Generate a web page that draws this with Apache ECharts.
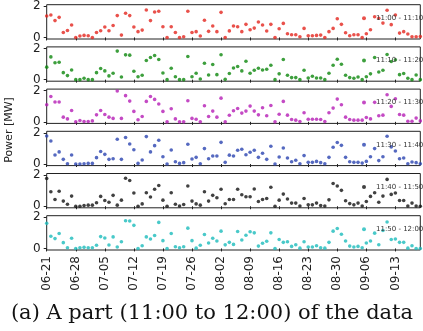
<!DOCTYPE html>
<html>
<head>
<meta charset="utf-8">
<script src="https://cdn.jsdelivr.net/npm/echarts@6/dist/echarts.min.js"></script>
<style>
  html, body { margin: 0; padding: 0; background: #fff; }
  #chart { width: 423px; height: 331px; }
</style>
</head>
<body>
<div id="chart"></div>
<script>
// daily category labels, 06-21 .. 09-19
const days = []
for (let d = new Date(2020, 5, 21); d <= new Date(2020, 8, 19); d.setDate(d.getDate() + 1)) {
  days.push(String(d.getMonth() + 1).padStart(2, '0') + '-' + String(d.getDate()).padStart(2, '0'))
}

const names = ['11:00 - 11:10', '11:10 - 11:20', '11:20 - 11:30', '11:30 - 11:40', '11:40 - 11:50', '11:50 - 12:00']
const colors = ['#e3261e', '#0d870d', '#b51db5', '#2b44b0', '#111111', '#1bbcbc']

// power [MW] per day for each 10-minute slot
const p1100 = [1.38, 1.44, 1.08, 1.29, 0.32, 0.45, 0.80, 0.00, 0.09, 0.13, 0.11, 0.00, 0.32, 0.43, 0.67, 0.43, 0.77, 1.40, 0.15, 1.55,
  1.40, 0.67, 0.37, 0.47, 1.76, 1.08, 1.63, 1.68, 0.69, 0.00, 0.69, 0.32, 0.00, 0.04, 1.68, 0.32, 0.37, 0.09, 1.10, 0.39,
  0.73, 0.37, 1.61, 0.00, 0.42, 0.73, 0.69, 0.37, 0.84, 0.49, 0.60, 0.99, 0.80, 0.41, 0.84, 0.00, 0.56, 0.90, 0.24, 0.17,
  0.17, 0.04, 0.58, 0.11, 0.11, 0.13, 0.15, 0.00, 0.37, 0.58, 1.20, 0.84, 0.30, 0.11, 0.17, 0.17, 0.00, 0.24, 0.49, 1.33,
  1.23, 0.92, 1.74, 0.82, 1.44, 0.28, 0.37, 0.22, 0.04, 0.04, 0.06]
const p1110 = [0.80, 1.46, 1.08, 1.12, 0.45, 0.26, 0.62, 0.00, 0.00, 0.09, 0.00, 0.00, 0.45, 0.71, 0.56, 0.24, 0.41, 1.83, 0.17, 1.59,
  1.57, 0.54, 0.19, 0.28, 1.23, 1.42, 1.55, 1.29, 0.43, 0.00, 0.73, 0.19, 0.00, 0.00, 1.48, 0.19, 0.41, 0.04, 1.05, 0.30,
  0.97, 0.32, 1.60, 0.02, 0.39, 0.75, 0.84, 0.56, 1.18, 0.41, 0.60, 0.73, 0.62, 0.67, 0.92, 0.00, 0.37, 1.29, 0.28, 0.13,
  0.13, 0.00, 0.60, 0.11, 0.22, 0.11, 0.11, 0.00, 0.41, 0.92, 1.31, 0.99, 0.28, 0.13, 0.09, 0.17, 0.00, 0.19, 0.37, 1.42,
  0.49, 0.60, 1.61, 1.16, 1.27, 0.32, 0.39, 0.09, 0.00, 0.30, 0.00]
const p1120 = [1.10, 1.63, 1.27, 1.27, 0.30, 0.19, 0.73, 0.00, 0.09, 0.02, 0.02, 0.06, 0.45, 0.73, 0.47, 0.30, 0.22, 1.98, 0.22, 1.68,
  1.33, 0.67, 0.13, 0.34, 1.31, 1.63, 1.44, 1.14, 0.67, 0.00, 0.84, 0.19, 0.00, 0.00, 1.35, 0.22, 0.17, 0.00, 1.03, 0.34,
  0.69, 0.30, 1.52, 0.00, 0.42, 0.71, 0.86, 0.56, 0.69, 1.01, 0.69, 0.45, 0.90, 0.39, 1.05, 0.00, 0.49, 1.31, 0.43, 0.15,
  0.11, 0.02, 0.58, 0.17, 0.17, 0.17, 0.15, 0.02, 0.58, 0.88, 1.46, 1.10, 0.30, 0.15, 0.11, 0.11, 0.11, 0.28, 0.19, 1.25,
  0.39, 0.43, 1.74, 0.99, 1.48, 0.47, 0.43, 0.04, 0.04, 0.24, 0.06]
const p1130 = [1.80, 1.48, 0.58, 0.78, 0.30, 0.02, 0.58, 0.00, 0.00, 0.02, 0.04, 0.04, 0.41, 0.80, 0.62, 0.30, 0.34, 1.59, 0.30, 1.70,
  1.29, 0.92, 0.04, 0.26, 1.76, 0.78, 1.18, 1.53, 0.47, 0.00, 0.90, 0.15, 0.04, 0.09, 1.27, 0.32, 0.43, 0.02, 0.99, 0.34,
  0.52, 0.52, 1.39, 0.11, 0.57, 0.52, 0.88, 0.95, 0.60, 0.76, 0.88, 0.43, 0.69, 0.30, 1.14, 0.00, 0.45, 1.03, 0.39, 0.15,
  0.24, 0.02, 0.54, 0.11, 0.11, 0.17, 0.09, 0.02, 0.43, 1.08, 1.38, 1.20, 0.43, 0.15, 0.11, 0.11, 0.06, 0.17, 0.47, 0.99,
  0.22, 0.47, 1.78, 1.10, 0.84, 0.34, 0.39, 0.02, 0.13, 0.09, 0.02]
const p1140 = [1.78, 0.93, 0.43, 0.96, 0.33, 0.13, 0.65, 0.00, 0.00, 0.04, 0.07, 0.07, 0.22, 0.63, 0.37, 0.26, 0.70, 0.07, 0.39, 1.80,
  1.65, 0.85, 0.00, 0.15, 0.87, 0.59, 1.09, 1.33, 0.39, 0.00, 0.87, 0.13, 0.02, 0.11, 1.30, 0.33, 0.15, 0.07, 0.93, 0.33,
  0.70, 0.54, 1.09, 0.16, 0.43, 0.43, 1.09, 0.74, 0.61, 0.61, 1.11, 0.30, 0.43, 0.50, 1.22, 0.00, 0.39, 0.78, 0.46, 0.20,
  0.20, 0.02, 0.50, 0.09, 0.09, 0.20, 0.04, 0.02, 0.41, 1.46, 1.30, 1.02, 0.35, 0.17, 0.09, 0.20, 0.02, 0.30, 0.63, 0.87,
  0.26, 0.65, 1.72, 0.76, 0.85, 0.37, 0.37, 0.02, 0.20, 0.02, 0.00]
const p1150 = [1.61, 0.78, 0.63, 0.96, 0.37, 0.04, 0.65, 0.00, 0.04, 0.07, 0.04, 0.04, 0.20, 0.76, 0.67, 0.22, 0.74, 0.09, 0.43, 1.78,
  1.76, 1.48, 0.00, 0.17, 0.74, 0.61, 0.83, 1.67, 0.50, 0.00, 0.96, 0.11, 0.04, 0.11, 1.30, 0.50, 0.02, 0.20, 0.89, 0.35,
  0.65, 0.48, 1.11, 0.23, 0.39, 0.26, 1.09, 0.54, 0.85, 1.07, 1.00, 0.15, 0.33, 0.46, 1.00, 0.00, 0.57, 0.39, 0.43, 0.13,
  0.24, 0.02, 0.43, 0.09, 0.09, 0.17, 0.04, 0.02, 0.39, 1.11, 1.28, 0.91, 0.48, 0.15, 0.09, 0.13, 0.04, 0.35, 0.48, 0.98,
  0.24, 1.15, 1.70, 0.57, 0.61, 0.39, 0.39, 0.02, 0.17, 0.00, 0.00]
const values = [p1100, p1110, p1120, p1130, p1140, p1150]

const yTicks = [0, 2]

const panelTop = 4.7
const panelStep = 42.2
const panelH = 34.3
const axisFont = 'DejaVu Sans'

const chart = echarts.init(document.getElementById('chart'), null, { renderer: 'canvas' })

chart.setOption({
  animation: false,
  backgroundColor: '#fff',
  grid: names.map((n, i) => ({
    left: 46.7,
    right: 2.7,
    top: panelTop + panelStep * i,
    height: panelH,
    show: true,
    borderColor: '#222',
    borderWidth: 1
  })),
  xAxis: names.map((n, i) => ({
    type: 'category',
    gridIndex: i,
    data: days,
    boundaryGap: false,
    axisLine: { show: false },
    axisTick: { show: true, interval: 6, length: 3, lineStyle: { color: '#222' } },
    axisLabel: {
      show: i === names.length - 1,
      interval: 6,
      rotate: 90,
      margin: 6,
      fontSize: 12,
      fontFamily: axisFont,
      color: '#222'
    },
    splitLine: { show: false }
  })),
  yAxis: names.map((n, i) => ({
    type: 'value',
    gridIndex: i,
    min: -0.1,
    max: 2.1,
    axisLine: { show: false },
    axisTick: { show: true, length: 3, customValues: yTicks, lineStyle: { color: '#222' } },
    axisLabel: { customValues: yTicks, margin: 6, fontSize: 12, fontFamily: axisFont, color: '#222' },
    splitLine: { show: false }
  })),
  legend: names.map((n, i) => ({
    data: [n],
    left: 357,
    top: panelTop + panelStep * i + 5,
    icon: 'circle',
    itemWidth: 4,
    itemHeight: 4,
    selectedMode: false,
    textStyle: { fontSize: 7, fontFamily: axisFont, color: '#333', padding: [0, 0, 0, 5] }
  })),
  series: names.map((n, i) => ({
    name: n,
    type: 'scatter',
    xAxisIndex: i,
    yAxisIndex: i,
    data: values[i],
    symbolSize: 3.6,
    clip: false,
    itemStyle: { color: colors[i] }
  })),
  graphic: [
    {
      type: 'text',
      rotation: Math.PI / 2,
      x: 9,
      y: 130,
      style: { text: 'Power [MW]', fontSize: 11, fontFamily: axisFont, fill: '#222', textAlign: 'center', textVerticalAlign: 'middle' }
    },
    {
      type: 'text',
      x: 212,
      y: 314,
      style: { text: '(a) A part (11:00 to 12:00) of the data', fontSize: 21, fontFamily: 'DejaVu Serif', fill: '#111', textAlign: 'center', textVerticalAlign: 'middle' }
    }
  ]
})
</script>
</body>
</html>
